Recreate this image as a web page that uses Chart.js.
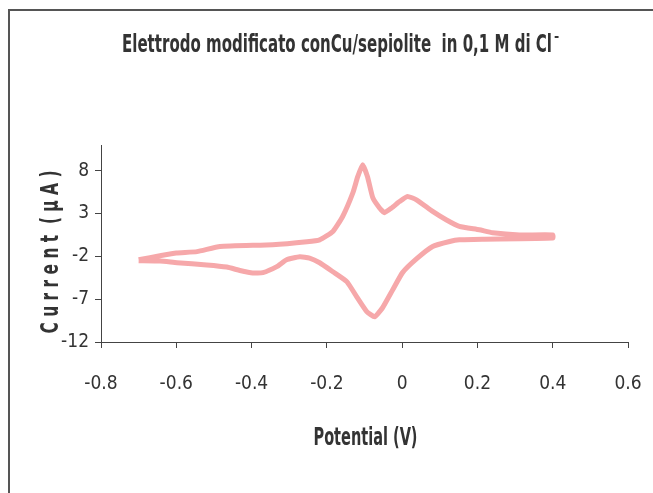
<!DOCTYPE html>
<html>
<head>
<meta charset="utf-8">
<script src="https://cdn.jsdelivr.net/npm/chart.js@4"></script>
<style>
  html, body { margin: 0; padding: 0; background: #fff; }
  #wrap { width: 653px; height: 493px; }
</style>
</head>
<body>
<div id="wrap"><canvas id="cv"></canvas></div>
<script>
// anodic sweep (-0.7 -> 0.4 V)
const forwardV = [-0.70, -0.64, -0.60, -0.545, -0.484, -0.344, -0.253, -0.219, -0.184, -0.158, -0.131, -0.118, -0.105, -0.092, -0.078, -0.060, -0.047, -0.028, -0.007, 0.014, 0.038, 0.081, 0.118, 0.152, 0.205, 0.240, 0.312, 0.40];
const forwardI = [-2.4, -1.9, -1.6, -1.45, -0.85, -0.65, -0.3, -0.07, 0.9, 2.65, 5.4, 7.3, 8.7, 7.3, 4.85, 3.65, 3.1, 3.65, 4.4, 5.0, 4.6, 3.25, 2.25, 1.5, 1.1, 0.75, 0.5, 0.5];
// cathodic sweep (0.4 -> -0.7 V)
const backwardV = [0.40, 0.213, 0.152, 0.126, 0.081, 0.038, 0.001, -0.025, -0.052, -0.073, -0.094, -0.121, -0.147, -0.184, -0.219, -0.246, -0.272, -0.307, -0.333, -0.370, -0.397, -0.431, -0.466, -0.519, -0.598, -0.643, -0.70];
const backwardI = [0.13, 0.0, -0.07, -0.27, -0.85, -2.3, -3.9, -5.9, -8.0, -9.05, -8.45, -6.7, -4.95, -3.8, -2.75, -2.2, -2.05, -2.4, -3.2, -3.9, -3.95, -3.65, -3.25, -3.0, -2.75, -2.55, -2.5];

const xTicks = [-0.8, -0.6, -0.4, -0.2, 0, 0.2, 0.4, 0.6];
const yTicks = [-12, -7, -2, 3, 8];

const titleText = 'Elettrodo modificato conCu/sepiolite  in 0,1 M di Cl';
const xTitle = 'Potential (V)';
const yTitle = 'C u r r e n t  ( µ A )';

const points = forwardV.map((v, i) => ({ x: v, y: forwardI[i] }))
  .concat(backwardV.map((v, i) => ({ x: v, y: backwardI[i] })));

const NARROW = '"DejaVu Sans Condensed", "Liberation Sans", sans-serif';

// draw text squeezed to a given width (the original uses a narrow font)
function squeezed(ctx, text, x, y, width, align) {
  const w = ctx.measureText(text).width;
  const sx = width / w;
  ctx.save();
  ctx.translate(x, y);
  ctx.scale(sx, 1);
  ctx.textAlign = align || 'left';
  ctx.fillText(text, 0, 0);
  ctx.restore();
  return w * sx;
}

const decor = {
  id: 'decor',
  beforeDraw(chart) {
    const ctx = chart.ctx;
    ctx.save();
    ctx.strokeStyle = '#555';
    ctx.lineWidth = 2;
    ctx.strokeRect(9, 10, 800, 700);
    ctx.restore();
  },
  afterDraw(chart) {
    const ctx = chart.ctx;
    const a = chart.chartArea;
    ctx.save();
    ctx.fillStyle = '#333';
    ctx.textBaseline = 'alphabetic';
    // main title
    ctx.font = 'bold 25px ' + NARROW;
    const tw = squeezed(ctx, titleText, 122, 52, 430);
    ctx.font = 'bold 14px ' + NARROW;
    ctx.fillText('-', 122 + tw + 2, 41);
    // x title
    ctx.font = 'bold 24px ' + NARROW;
    squeezed(ctx, xTitle, (a.left + a.right) / 2 + 1, 445, 104, 'center');
    // y title
    ctx.save();
    ctx.translate(58, 252);
    ctx.rotate(-Math.PI / 2);
    ctx.font = 'bold 24px ' + NARROW;
    squeezed(ctx, yTitle, 0, 0, 163, 'center');
    ctx.restore();
    ctx.restore();
  }
};

new Chart(document.getElementById('cv'), {
  type: 'scatter',
  data: {
    datasets: [{
      data: points,
      showLine: true,
      borderColor: 'rgb(246,168,170)',
      borderWidth: 5,
      pointRadius: 0,
      tension: 0.15,
      fill: false
    }]
  },
  options: {
    responsive: true,
    maintainAspectRatio: false,
    animation: false,
    layout: { padding: { left: 0, top: 145, right: 25, bottom: 0 } },
    plugins: { legend: { display: false }, tooltip: { enabled: false }, title: { display: false } },
    scales: {
      x: {
        type: 'linear',
        min: -0.8,
        max: 0.6,
        afterBuildTicks(s) { s.ticks = xTicks.map(v => ({ value: v })); },
        afterFit(s) { s.height = 151; },
        grid: { display: true, drawOnChartArea: false, drawTicks: true, tickLength: 6, color: '#444' },
        border: { display: true, color: '#444', width: 1 },
        ticks: {
          color: '#333',
          padding: 3,
          font: { family: NARROW, size: 19, lineHeight: 3.47 },
          callback: v => String(Math.round(v * 10) / 10)
        }
      },
      y: {
        type: 'linear',
        min: -12,
        max: 11,
        afterBuildTicks(s) { s.ticks = yTicks.map(v => ({ value: v })); },
        afterFit(s) { s.width = 101; },
        grid: { display: true, drawOnChartArea: false, drawTicks: true, tickLength: 6, color: '#444' },
        border: { display: true, color: '#444', width: 1 },
        ticks: {
          color: '#333',
          padding: 6,
          font: { family: NARROW, size: 19 }
        }
      }
    }
  },
  plugins: [decor]
});
</script>
</body>
</html>
